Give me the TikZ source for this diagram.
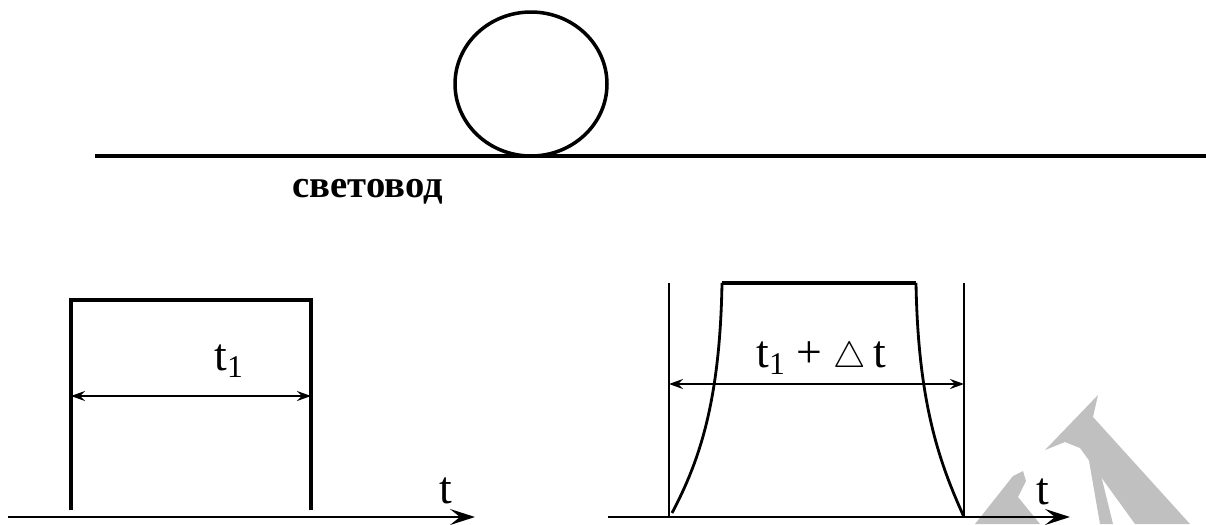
\documentclass[tikz,border=0pt]{standalone}
\usepackage{fontspec}
\setmainfont{Liberation Serif}
\usetikzlibrary{arrows.meta}
\definecolor{markgray}{RGB}{192,192,192}
\newcommand{\lowered}[1]{\raisebox{-4pt}{\fontsize{18}{18}\selectfont #1}}

\begin{document}
\begin{tikzpicture}[x=0.02cm, y=-0.02cm,
    heavy/.style={line width=2pt},
    light/.style={line width=1pt},
    dimarrow/.style={light, {Stealth[length=2.8mm,width=2mm,inset=1mm]}-{Stealth[length=2.8mm,width=2mm,inset=1mm]}},
    axisarrow/.style={line width=1.5pt, -{Stealth[length=5mm,width=3.2mm,inset=2mm]}},
    lbl/.style={font=\fontsize{26}{26}\selectfont, inner sep=0pt, anchor=base west}]
    \useasboundingbox (0,0) rectangle (1206,524);

    % watermark
    \fill[markgray] (1045,450) -- (1098,395) -- (1093,417) -- (1190,524) -- (1135,524) -- (1080,448) -- (1065,442) -- cycle;
    \fill[markgray] (1088,455) -- (1096,455) -- (1113,524) -- (1100,524) -- cycle;
    \fill[markgray] (1013,476) -- (1023,471) -- (1026,481) -- (1018,497) -- (1040,524) -- (975,524) -- cycle;

    % fibre
    \draw[heavy] (95,156) -- (1206,156);
    \draw[heavy] (531,84) ellipse [x radius=1.52cm, y radius=1.44cm];
    \node[font=\fontsize{22}{22}\selectfont\bfseries, inner sep=0pt, anchor=base west] (fibre) at (292,197) {световод};

    % input pulse
    \draw[axisarrow] (8,517) -- (475,517);
    \draw[heavy] (71,510) -- (71,300) -- (311,300) -- (311,510);
    \coordinate (la) at (71,396);
    \coordinate (lb) at (311,396);
    \draw[dimarrow] (la) -- (lb);
    \node[lbl] (tin) at (214,370) {t\lowered{1}};
    \node[lbl] (taxl) at (439,503) {t};

    % output pulse
    \draw[axisarrow] (608,517) -- (1070,517);
    \draw[light] (669,283) -- (669,517);
    \draw[light] (964,283) -- (964,517);
    \draw[line width=1.6pt] (672,513) .. controls (700,460) and (720,400) .. (722,283);
    \draw[heavy] (722,283) -- (916,283);
    \draw[line width=1.6pt] (916,283) .. controls (918,400) and (938,460) .. (964,517);
    \coordinate (ra) at (669,384);
    \coordinate (rb) at (964,384);
    \draw[dimarrow] (ra) -- (rb);
    \node[lbl] (tout) at (756,367) {t\lowered{1} + {\fontsize{22}{22}\selectfont$\triangle$}\,t};
    \node[lbl] (taxr) at (1036,504) {t};
\end{tikzpicture}
\end{document}
